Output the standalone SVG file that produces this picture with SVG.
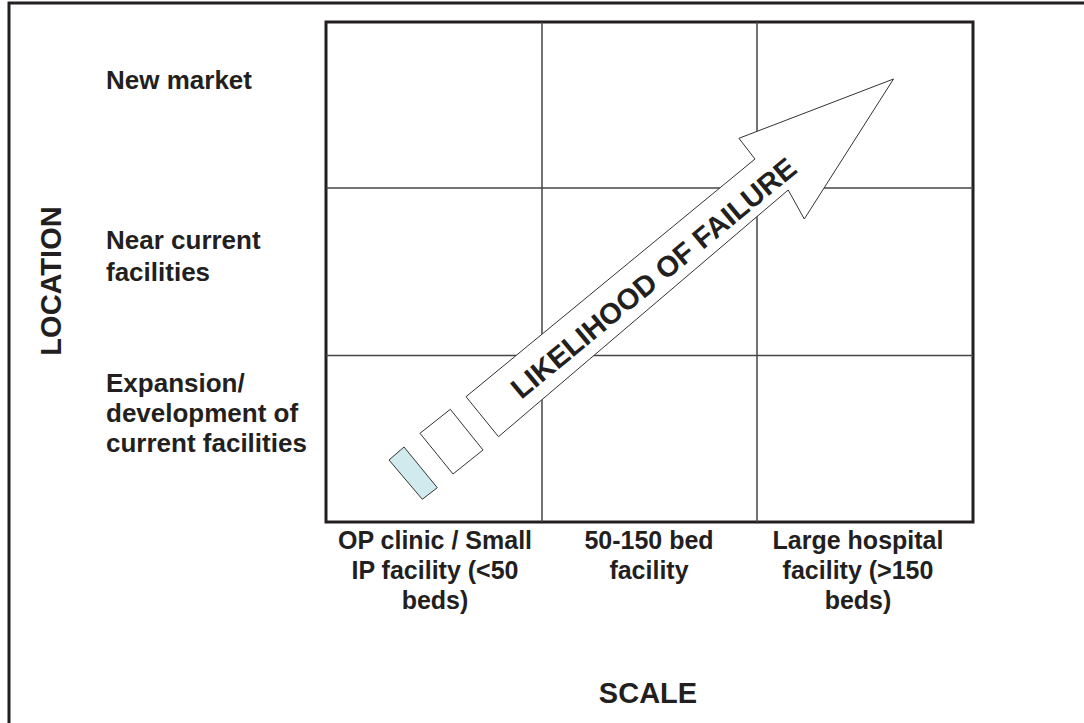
<svg xmlns="http://www.w3.org/2000/svg" width="1084" height="723" viewBox="0 0 1084 723">
<style>
.lbl{font-family:"Liberation Sans",Arial,sans-serif;font-weight:bold;font-size:26px;fill:#231f20}
.mid{text-anchor:middle;font-size:25px}
.axis{font-family:"Liberation Sans",Arial,sans-serif;font-weight:bold;font-size:29px;fill:#231f20;text-anchor:middle}
.grid{stroke:#444;stroke-width:1.5;fill:none}
.shape{stroke:#333;stroke-width:1;stroke-linejoin:miter}
</style>
<rect width="1084" height="723" fill="#fff"/>
<path d="M9 730 V3 H1090" fill="none" stroke="#231f20" stroke-width="3"/>
<g id="grid">
<rect x="326" y="22" width="647" height="500" fill="none" stroke="#231f20" stroke-width="3"/>
<line class="grid" x1="542" y1="22" x2="542" y2="522"/>
<line class="grid" x1="757" y1="22" x2="757" y2="522"/>
<line class="grid" x1="326" y1="188" x2="973" y2="188"/>
<line class="grid" x1="326" y1="355.5" x2="973" y2="355.5"/>
</g>
<g id="row-labels">
<text class="lbl" x="106" y="89">New market</text>
<text class="lbl" x="106" y="249">Near current</text>
<text class="lbl" x="106" y="281">facilities</text>
<text class="lbl" x="106" y="392">Expansion/</text>
<text class="lbl" x="106" y="422">development of</text>
<text class="lbl" x="106" y="452">current facilities</text>
</g>
<g id="col-labels">
<text class="lbl mid" x="435" y="549">OP clinic / Small</text>
<text class="lbl mid" x="435" y="579">IP facility (&lt;50</text>
<text class="lbl mid" x="435" y="609">beds)</text>
<text class="lbl mid" x="649" y="549">50-150 bed</text>
<text class="lbl mid" x="649" y="579">facility</text>
<text class="lbl mid" x="858" y="549">Large hospital</text>
<text class="lbl mid" x="858" y="579">facility (&gt;150</text>
<text class="lbl mid" x="858" y="609">beds)</text>
</g>
<g id="axis-labels">
<text class="axis" transform="translate(61,281) rotate(-90)">LOCATION</text>
<text class="axis" x="648" y="703">SCALE</text>
</g>
<g id="arrow">
<polygon class="shape" fill="#fff" points="893.5,79 804.3,219 788.2,190 498.5,436.7 466,396.7 755,159 738.9,138.3"/>
<text class="axis" font-size="35" transform="translate(652,276) rotate(-39.5)" dy="12.5">LIKELIHOOD OF FAILURE</text>
</g>
<g id="box-white">
<polygon class="shape" fill="#fff" points="420,433.3 450.3,409.3 483,450 453,474"/>
</g>
<g id="box-blue">
<polygon class="shape" fill="#d1eaee" points="389,460 404,447 437.3,487.7 422.3,499.3"/>
</g>
</svg>
